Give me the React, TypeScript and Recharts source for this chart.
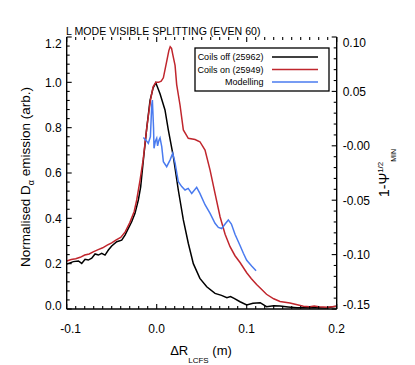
import React from "react";
import { LineChart, Line, XAxis, YAxis } from "recharts";

// Coils off (25962)
const OFF_X = [
  -0.1, -0.0926, -0.087, -0.0833, -0.0796, -0.076, -0.0722, -0.0685, -0.0648, -0.0611,
  -0.0574, -0.0537, -0.05, -0.0444, -0.0389, -0.0352, -0.0315, -0.0278, -0.0241, -0.0204,
  -0.0178, -0.015, -0.011, -0.0074, -0.004, -0.001, 0.0037, 0.0092, 0.0129, 0.0185,
  0.024, 0.0296, 0.0351, 0.0407, 0.048, 0.0556, 0.0648, 0.072, 0.078, 0.082,
  0.086, 0.0926, 0.1, 0.107, 0.115, 0.122, 0.13, 0.137, 0.146, 0.156,
  0.166, 0.178, 0.188, 0.196, 0.2,
];
const OFF_Y = [
  0.198, 0.209, 0.212, 0.201, 0.219, 0.216, 0.224, 0.243, 0.238, 0.246,
  0.238, 0.26, 0.278, 0.297, 0.304, 0.326, 0.356, 0.385, 0.422, 0.481,
  0.539, 0.65, 0.8, 0.92, 0.975, 0.998, 0.95, 0.878, 0.79, 0.672,
  0.525, 0.393, 0.29, 0.2, 0.135, 0.098, 0.069, 0.06, 0.05, 0.055,
  0.047, 0.032, 0.018, 0.025, 0.028, 0.01, 0.014, 0.013, 0.009, 0.005,
  0.006, 0.005, 0.004, 0.01, 0.012,
];

// Coils on (25949)
const ON_X = [
  -0.1, -0.095, -0.09, -0.085, -0.08, -0.075, -0.07, -0.065, -0.06, -0.055,
  -0.05, -0.045, -0.04, -0.035, -0.03, -0.025, -0.0222, -0.0185, -0.015, -0.011,
  -0.007, -0.004, -0.001, 0.002, 0.005, 0.0074, 0.011, 0.0135, 0.015, 0.0165,
  0.018, 0.0204, 0.0222, 0.0259, 0.0296, 0.0351, 0.0426, 0.048, 0.0537, 0.0593,
  0.0648, 0.0704, 0.076, 0.0815, 0.087, 0.0926, 0.1, 0.105, 0.111, 0.117,
  0.122, 0.13, 0.137, 0.148, 0.155, 0.163, 0.17, 0.175, 0.18, 0.19, 0.2,
];
const ON_Y = [
  0.212, 0.218, 0.222, 0.228, 0.238, 0.243, 0.253, 0.262, 0.27, 0.282,
  0.292, 0.305, 0.316, 0.34, 0.38, 0.43, 0.481, 0.569, 0.66, 0.8,
  0.92, 0.98, 1.0, 1.0, 1.005, 1.02, 1.09, 1.14, 1.157, 1.15,
  1.12, 1.075, 0.99, 0.9, 0.79, 0.753, 0.748, 0.738, 0.701, 0.613,
  0.51, 0.407, 0.33, 0.275, 0.235, 0.205, 0.16, 0.135, 0.108, 0.085,
  0.065, 0.045, 0.033, 0.026, 0.02, 0.012, 0.01, 0.013, 0.01, 0.008, 0.012,
];

// Modelling
const MOD_X = [
  -0.0148, -0.012, -0.0093, -0.007, -0.0055, -0.0048, -0.0035, -0.003, -0.0015, 0.0,
  0.001, 0.0025, 0.0037, 0.0056, 0.0074, 0.0111, 0.0148, 0.0178, 0.0204, 0.024,
  0.0278, 0.0315, 0.035, 0.0389, 0.0444, 0.048, 0.0537, 0.0593, 0.0648, 0.0685,
  0.0722, 0.076, 0.0796, 0.083, 0.087, 0.0926, 0.0963, 0.1, 0.1055, 0.1104,
];
const MOD_Y = [
  0.757, 0.745, 0.731, 0.76, 0.9, 0.922, 0.8, 0.709, 0.74, 0.753,
  0.72, 0.745, 0.755, 0.716, 0.65, 0.628, 0.657, 0.687, 0.645, 0.562,
  0.54, 0.525, 0.532, 0.51, 0.537, 0.51, 0.46, 0.422, 0.378, 0.36,
  0.355, 0.375, 0.393, 0.375, 0.33, 0.28, 0.246, 0.215, 0.19, 0.169,
];

const X_MAJOR = [-0.1, 0, 0.1, 0.2];
const X_LABELS = ["-0.1", "0.0", "0.1", "0.2"];
const Y_MAJOR = [0, 0.2, 0.4, 0.6, 0.8, 1.0, 1.2];
const Y_LABELS = ["0.0", "0.2", "0.4", "0.6", "0.8", "1.0", "1.2"];
const PSI_MAJOR = [-0.15, -0.1, -0.05, 0, 0.05, 0.1];
const PSI_LABELS = ["-0.15", "-0.10", "-0.05", "-0.00", "0.05", "0.10"];

const zip = (xs: number[], ys: number[]) => xs.map((x, i) => ({ x, y: ys[i] }));

const SERIES = [
  { name: "Coils off (25962)", color: "#000000", data: zip(OFF_X, OFF_Y) },
  { name: "Coils on (25949)", color: "#c0262d", data: zip(ON_X, ON_Y) },
  { name: "Modelling", color: "#4a7bef", data: zip(MOD_X, MOD_Y) },
];

// layout
const W = 400;
const H = 350;
const MARGIN = { top: 29, right: 21.3, bottom: 9, left: 8.7 };
const YAXIS_W = 50;
const XAXIS_H = 40;
const PLOT = {
  left: MARGIN.left + YAXIS_W,
  right: W - MARGIN.right - YAXIS_W,
  top: MARGIN.top,
  bottom: H - MARGIN.bottom - XAXIS_H,
};

// minor ticks between each pair of majors
function subdivide(major: number[], n: number) {
  const out: number[] = [];
  for (let i = 0; i < major.length - 1; i++) {
    const step = (major[i + 1] - major[i]) / n;
    for (let k = 0; k < n; k++) out.push(+(major[i] + k * step).toFixed(6));
  }
  out.push(major[major.length - 1]);
  return out;
}

const FONT = "'Liberation Sans', Arial, Helvetica, sans-serif";
const MAJ = 5;
const MIN = 3;

function majorIndex(v: number, major: number[]) {
  return major.findIndex((m) => Math.abs(m - v) < 1e-6);
}

function XTick(props: any) {
  const { x, y, payload } = props;
  const idx = majorIndex(payload.value, X_MAJOR);
  if (idx < 0) return <g />;
  return (
    <text x={x + (idx === 0 ? 4 : 0)} y={y + 24} textAnchor="middle" fontSize={12} fontFamily={FONT} fill="#000">
      {X_LABELS[idx]}
    </text>
  );
}

function LeftTick(props: any) {
  const { x, y, payload } = props;
  const idx = majorIndex(payload.value, Y_MAJOR);
  if (idx < 0) return <g />;
  let dy = 4.3;
  if (idx === Y_MAJOR.length - 1) dy += 7;
  if (idx === 0) dy -= 3;
  return (
    <text x={x - 5} y={y + dy} textAnchor="end" fontSize={12} fontFamily={FONT} fill="#000">
      {Y_LABELS[idx]}
    </text>
  );
}

function RightTick(props: any) {
  const { x, y, payload } = props;
  const idx = majorIndex(payload.value, PSI_MAJOR);
  if (idx < 0) return <g />;
  let dy = 4.3;
  if (idx === PSI_MAJOR.length - 1) dy += 6;
  if (idx === 0) dy -= 4;
  return (
    <text x={x + 6} y={y + dy} textAnchor="start" fontSize={12} fontFamily={FONT} fill="#000">
      {PSI_LABELS[idx]}
    </text>
  );
}

const axisLine = { stroke: "#000", strokeWidth: 1.4 };

// inward IDL-style tick marks along the frame
function FrameTicks(props: { xTicks: number[]; yTicks: number[]; psiTicks: number[] }) {
  const { xTicks, yTicks, psiTicks } = props;
  const pw = PLOT.right - PLOT.left;
  const ph = PLOT.bottom - PLOT.top;
  const sx = (v: number) => PLOT.left + ((v + 0.1) / 0.3) * pw;
  const sy = (v: number) => PLOT.bottom - (v / 1.2) * ph;
  const sp = (v: number) => PLOT.bottom - ((v + 0.15) / 0.25) * ph;
  const st = { stroke: "#000", strokeWidth: 1.1 };
  return (
    <g>
      {xTicks.map((v) => {
        const len = majorIndex(v, X_MAJOR) >= 0 ? MAJ : MIN;
        const x = sx(v);
        return (
          <g key={"x" + v}>
            <line x1={x} x2={x} y1={PLOT.bottom} y2={PLOT.bottom - len} {...st} />
            <line x1={x} x2={x} y1={PLOT.top} y2={PLOT.top + len} {...st} />
          </g>
        );
      })}
      {yTicks.map((v) => {
        const len = majorIndex(v, Y_MAJOR) >= 0 ? MAJ : MIN;
        const y = sy(v);
        return <line key={"y" + v} x1={PLOT.left} x2={PLOT.left + len} y1={y} y2={y} {...st} />;
      })}
      {psiTicks.map((v) => {
        const len = majorIndex(v, PSI_MAJOR) >= 0 ? MAJ : MIN;
        const y = sp(v);
        return <line key={"p" + v} x1={PLOT.right} x2={PLOT.right - len} y1={y} y2={y} {...st} />;
      })}
    </g>
  );
}

export default function App() {
  const xTicks = subdivide(X_MAJOR, 10);
  const yTicks = subdivide(Y_MAJOR, 5);
  const psiTicks = subdivide(PSI_MAJOR, 5);

  return (
    <div style={{ position: "relative", width: 407, height: 357 }}>
      <LineChart width={W} height={H} margin={MARGIN}>
        <XAxis
          xAxisId="b"
          dataKey="x"
          type="number"
          domain={[-0.1, 0.2]}
          allowDataOverflow
          ticks={X_MAJOR}
          interval={0}
          height={XAXIS_H}
          tickSize={0}
          tickMargin={0}
          tickLine={false}
          axisLine={axisLine}
          tick={(p: any) => <XTick {...p} />}
        />
        <XAxis
          xAxisId="t"
          orientation="top"
          type="number"
          domain={[-0.1, 0.2]}
          allowDataOverflow
          height={0}
          tick={false}
          tickLine={false}
          axisLine={axisLine}
        />
        <YAxis
          yAxisId="l"
          type="number"
          domain={[0, 1.2]}
          allowDataOverflow
          ticks={Y_MAJOR}
          interval={0}
          width={YAXIS_W}
          tickSize={0}
          tickMargin={0}
          tickLine={false}
          axisLine={axisLine}
          tick={(p: any) => <LeftTick {...p} />}
        />
        <YAxis
          yAxisId="r"
          orientation="right"
          type="number"
          domain={[-0.15, 0.1]}
          allowDataOverflow
          ticks={PSI_MAJOR}
          interval={0}
          width={YAXIS_W}
          tickSize={0}
          tickMargin={0}
          tickLine={false}
          axisLine={axisLine}
          tick={(p: any) => <RightTick {...p} />}
        />
        {SERIES.map((s) => (
          <Line
            key={s.name}
            xAxisId="b"
            yAxisId="l"
            data={s.data}
            dataKey="y"
            name={s.name}
            type="linear"
            stroke={s.color}
            strokeWidth={1.5}
            dot={false}
            isAnimationActive={false}
          />
        ))}
      </LineChart>

      <svg width={407} height={357} style={{ position: "absolute", left: 0, top: 0, pointerEvents: "none", overflow: "visible" }} fontFamily={FONT}>
        <FrameTicks xTicks={xTicks} yTicks={yTicks} psiTicks={psiTicks} />

        <text x={58} y={26.5} fontSize={10.6} fill="#000">L MODE VISIBLE SPLITTING (EVEN 60)</text>

        {/* legend */}
        <rect x={187} y={40} width={134} height={43} fill="#fff" stroke="#000" strokeWidth={1.3} />
        {SERIES.map((s, i) => (
          <g key={s.name}>
            <text x={255.5} y={49 + i * 12.5 + 3.2} textAnchor="end" fontSize={9} fill="#000">{s.name}</text>
            <line x1={264} x2={310} y1={49 + i * 12.5} y2={49 + i * 12.5} stroke={s.color} strokeWidth={1.5} />
          </g>
        ))}

        {/* left axis title */}
        <text x={22} y={169} transform="rotate(-90 22 169)" textAnchor="middle" fontSize={13.5} fill="#000">
          Normalised D<tspan fontSize={9} dy={4}>α</tspan><tspan dy={-4}> emission (arb.)</tspan>
        </text>

        {/* right axis title */}
        <text x={381} y={189} transform="rotate(-90 381 189)" textAnchor="start" fontSize={14} fill="#000">
          1-Ψ<tspan fontSize={8} dy={-6}>1/2</tspan><tspan fontSize={7} dy={13}>MIN</tspan>
        </text>

        {/* bottom axis title */}
        <text x={193} y={347} textAnchor="middle" fontSize={13} fill="#000">
          ΔR<tspan fontSize={8} dy={8}>LCFS</tspan><tspan dy={-8}> (m)</tspan>
        </text>
      </svg>
    </div>
  );
}
